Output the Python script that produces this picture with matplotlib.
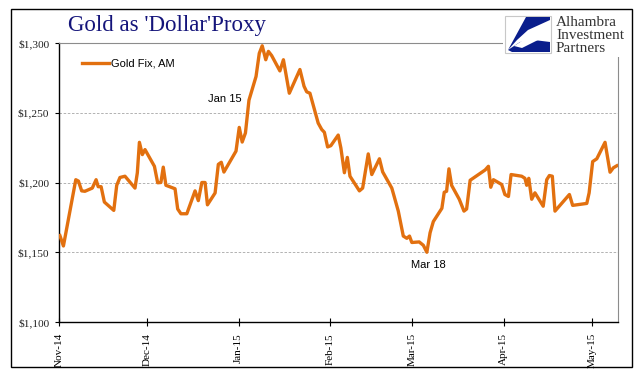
import matplotlib
matplotlib.use("Agg")
import matplotlib.pyplot as plt
import matplotlib.dates as mdates
from matplotlib.patches import Rectangle, Polygon
import pandas as pd

# gold fix (AM); days counted from 1 Nov 2014
day_offsets = [0.3, 1.5, 5.7, 6.6, 7.7, 8.8, 11.3, 12.6, 13.3, 14.3, 15.4, 18.6, 19.6,
               20.7, 22.4, 25.8, 26.6, 27.3, 28.3, 29.2, 32.4, 33.5, 34.6, 35.4, 36.3,
               39.4, 40.3, 41.4, 43.4, 46.2, 47.3, 48.5, 49.6, 50.4, 53.0, 54.1, 55.1,
               56.0, 60.1, 61.2, 62.2, 63.3, 64.5, 66.9, 68.0, 69.0, 70.2, 71.1, 72.2,
               75.0, 76.2, 78.2, 81.8, 83.2, 84.1, 85.2, 88.0, 89.2, 90.1, 91.2, 92.3,
               94.8, 95.7, 96.9, 97.9, 98.8, 102.0, 103.1, 105.0, 106.2, 108.8, 109.9,
               113.0, 115.2, 116.9, 118.1, 119.0, 119.8, 122.3, 123.7, 124.9, 126.0,
               127.1, 130.0, 130.8, 131.6, 132.4, 133.3, 135.9, 137.5, 138.4, 139.6,
               144.7, 145.8, 146.6, 147.5, 150.3, 151.4, 152.6, 153.5, 157.1, 158.2,
               158.8, 159.5, 160.5, 161.6, 164.4, 165.6, 166.5, 167.5, 168.4, 173.3,
               174.4, 179.2, 180.0, 181.2, 182.6, 185.4, 187.1, 188.2, 189.4]
gold_fix = [1162, 1154.5, 1202, 1201, 1194, 1193.7, 1196, 1202, 1197, 1197, 1186, 1180, 1198,
            1203.6, 1204.5, 1196, 1207, 1228.8, 1220, 1223.6, 1211.6, 1199.8, 1200, 1211, 1198,
            1195.5, 1181, 1177.6, 1177.6, 1194, 1187, 1200, 1200, 1184, 1192.5, 1213, 1214.5,
            1207.5, 1222.5, 1239.5, 1229, 1235.5, 1259, 1276, 1292.6, 1298, 1288, 1294, 1291,
            1280, 1288, 1264, 1281, 1269, 1265, 1264, 1242.6, 1238, 1236, 1225.5, 1226.4,
            1234, 1224.8, 1207, 1218, 1204.5, 1194, 1196, 1220.5, 1205.7, 1217, 1207.6,
            1196, 1179.5, 1161.6, 1160, 1161.6, 1157, 1157.4, 1155, 1150, 1164,
            1172, 1181.5, 1193, 1193.7, 1209.8, 1198, 1188, 1179.5, 1181, 1201.6,
            1209, 1211.6, 1196.6, 1202, 1198.6, 1191.4, 1190, 1205.7, 1204.5, 1203,
            1198, 1203, 1188, 1192.6, 1183, 1202, 1205, 1204.5, 1179.5, 1191.4,
            1183.6, 1185, 1192.6, 1215, 1217, 1228.8, 1207.4, 1210.5, 1212]

base = pd.Timestamp("2014-11-01")
dates = base + pd.to_timedelta(day_offsets, unit="D")

y_ticks = [1100, 1150, 1200, 1250, 1300]
month_ticks = pd.date_range("2014-11-01", "2015-05-01", freq="MS")

W, H = 641, 381
fig = plt.figure(figsize=(W / 100, H / 100), dpi=100)
fig.patch.set_facecolor("white")

ax = fig.add_axes([59 / W, 1 - 322 / H, 559 / W, 279 / H])
ax.plot(dates, gold_fix, color="#E2700F", lw=2.4, label="Gold Fix, AM",
        solid_joinstyle="round", zorder=3)

ax.set_xlim(base, base + pd.Timedelta(days=189.8))
ax.set_ylim(1100, 1300)
ax.set_yticks(y_ticks)
ax.set_yticklabels(["${:,}".format(v) for v in y_ticks])
ax.set_xticks(month_ticks)
ax.xaxis.set_major_formatter(mdates.DateFormatter("%b-%y"))

serif = "Liberation Serif"
for lab in ax.get_yticklabels():
    lab.set_fontfamily(serif)
    lab.set_fontsize(8.2)
    lab.set_color("#222222")
for lab in ax.get_xticklabels():
    lab.set_fontfamily(serif)
    lab.set_fontsize(8)
    lab.set_rotation(90)
    lab.set_va("top")

ax.tick_params(axis="y", direction="out", length=3, width=0.8, pad=4)
ax.tick_params(axis="x", direction="inout", length=6, width=0.8, pad=5)

ax.yaxis.grid(True, linestyle=(0, (3, 2)), color="#A6A6A6", linewidth=0.6)
ax.set_axisbelow(True)
for s in ["left", "bottom"]:
    ax.spines[s].set_color("black")
    ax.spines[s].set_linewidth(1.0)
for s in ["top", "right"]:
    ax.spines[s].set_color("#8C8C8C")
    ax.spines[s].set_linewidth(0.8)

leg = ax.legend(loc="center left", bbox_to_anchor=(0.041, 0.925), frameon=False,
                borderpad=0, borderaxespad=0, handlelength=2.4, handletextpad=0.25,
                prop={"family": "Liberation Sans", "size": 8})

ax.text(base + pd.Timedelta(days=56.2), 1260, "Jan 15", ha="center", va="center",
        fontsize=8, family="Liberation Sans")
ax.text(base + pd.Timedelta(days=125.3), 1140.7, "Mar 18", ha="center", va="center",
        fontsize=8, family="Liberation Sans")

fig.text(167 / W, 1 - 25 / H, "Gold as 'Dollar'Proxy", ha="center", va="center",
         fontsize=16.5, family=serif, color="#14147A")

# logo block, drawn in pixel units
lg = fig.add_axes([503 / W, 1 - 57 / H, 128 / W, 47 / H])
lg.set_xlim(503, 631)
lg.set_ylim(57, 10)
lg.axis("off")
lg.add_patch(Rectangle((503, 10), 128, 47, facecolor="white", edgecolor="none"))
lg.add_patch(Rectangle((505, 16), 46, 37, facecolor="white", edgecolor="#C8C8C8", lw=0.8))
lg.add_patch(Polygon([(526, 17), (550, 17), (550, 20), (528, 30), (517, 40), (508, 50)],
                     closed=True, facecolor="#0A1E8C", edgecolor="none"))
lg.add_patch(Polygon([(508, 50), (520, 42), (534, 40), (550, 42), (550, 52), (512, 52)],
                     closed=True, facecolor="#0A1E8C", edgecolor="none"))
lg.add_patch(Polygon([(514, 46), (525, 39), (540, 39), (530, 44), (522, 48)],
                     closed=True, facecolor="white", edgecolor="none"))
for i, word in enumerate(["Alhambra", "Investment", "Partners"]):
    lg.text(556, 23 + i * 12.5, word, ha="left", va="center", fontsize=11,
            family=serif, color="#333333")

fig.patches.append(Rectangle((11 / W, 1 - 367 / H), 621 / W, 358 / H,
                             transform=fig.transFigure, fill=False,
                             edgecolor="black", lw=1.0, zorder=5))

fig.savefig("out.png", dpi=100)
